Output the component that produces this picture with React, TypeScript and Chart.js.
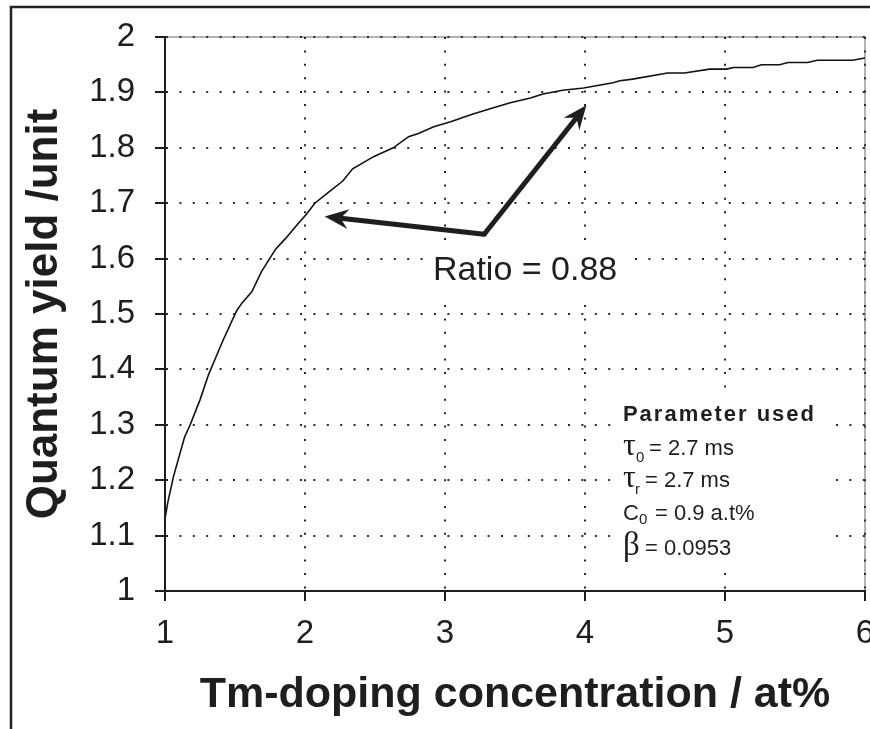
import React, { useEffect, useRef } from "react";
import { Chart, registerables } from "chart.js";

Chart.register(...registerables);

// ---- data ----
const concentration = [
  1.0, 1.02, 1.06, 1.14, 1.18, 1.25, 1.31, 1.41, 1.51, 1.55, 1.62, 1.69, 1.79, 1.86, 1.95, 2.01, 2.07,
  2.16, 2.27, 2.34, 2.49, 2.63, 2.74, 2.81, 2.92, 3.04, 3.2, 3.34, 3.46, 3.61, 3.7, 3.84, 3.99, 4.1,
  4.2, 4.25, 4.34, 4.59, 4.71, 4.89, 5.01, 5.06, 5.2, 5.26, 5.39, 5.45, 5.59, 5.66, 5.91, 6.0,
];
const quantumYield = [
  1.13, 1.16, 1.206, 1.278, 1.3, 1.345, 1.39, 1.45, 1.505, 1.52, 1.54, 1.577, 1.617, 1.636, 1.663, 1.68,
  1.7, 1.718, 1.74, 1.762, 1.784, 1.8, 1.82, 1.826, 1.838, 1.847, 1.861, 1.872, 1.881, 1.89, 1.897, 1.904,
  1.908, 1.913, 1.9175, 1.921, 1.924, 1.935, 1.935, 1.942, 1.942, 1.945, 1.945, 1.95, 1.95, 1.954, 1.954,
  1.958, 1.958, 1.962,
];
const xTickLabels = ["1", "2", "3", "4", "5", "6"];
const yTickLabels = ["1", "1.1", "1.2", "1.3", "1.4", "1.5", "1.6", "1.7", "1.8", "1.9", "2"];
const xTitle = "Tm-doping concentration / at%";
const yTitle = "Quantum yield /unit";

// annotation anchors in data units
const arrowVertex = [3.28, 1.644];
const arrowTipsX = [2.14, 4.01];
const arrowTipsY = [1.676, 1.877];
const ratioText = "Ratio = 0.88";
const ratioPos = [2.914, 1.562];
const paramTitle = "Parameter used";
const paramX = 4.271;
const paramBaselines = [1.307, 1.245, 1.188, 1.128, 1.065];
const paramSymbols = ["τ", "τ", "C", "β"];
const paramSubs = ["0", "r", "0", ""];
const paramValues = ["= 2.7 ms", "= 2.7 ms", "= 0.9 a.t%", "= 0.0953"];

const SANS = "'Liberation Sans', Arial, Helvetica, sans-serif";
const SERIF = "'Liberation Serif', 'Times New Roman', serif";
const INK = "#1e1e1e";

function drawArrow(ctx: CanvasRenderingContext2D, fx: number, fy: number, tx: number, ty: number) {
  const ang = Math.atan2(ty - fy, tx - fx);
  const c = Math.cos(ang);
  const s = Math.sin(ang);
  const headLen = 24;
  const half = 10;
  const notch = 16;
  ctx.save();
  ctx.strokeStyle = INK;
  ctx.fillStyle = INK;
  ctx.lineWidth = 5;
  ctx.lineCap = "butt";
  ctx.beginPath();
  ctx.moveTo(fx, fy);
  ctx.lineTo(tx - c * notch, ty - s * notch);
  ctx.stroke();
  const bx = tx - c * headLen;
  const by = ty - s * headLen;
  ctx.beginPath();
  ctx.moveTo(tx, ty);
  ctx.lineTo(bx - s * half, by + c * half);
  ctx.lineTo(tx - c * notch, ty - s * notch);
  ctx.lineTo(bx + s * half, by - c * half);
  ctx.closePath();
  ctx.fill();
  ctx.restore();
}

const framePlugin = {
  id: "frameAndNotes",
  beforeDraw(chart: any) {
    const { ctx, chartArea } = chart;
    ctx.save();
    ctx.fillStyle = "#ffffff";
    ctx.fillRect(0, 0, chart.width, chart.height);
    // outer figure frame (top and left)
    ctx.strokeStyle = "#222";
    ctx.lineWidth = 2.5;
    ctx.beginPath();
    ctx.moveTo(11, chart.height);
    ctx.lineTo(11, 7);
    ctx.lineTo(chart.width, 7);
    ctx.stroke();
    // light plot-area border (top, right)
    ctx.strokeStyle = "#9a9a9a";
    ctx.lineWidth = 1.5;
    ctx.beginPath();
    ctx.moveTo(chartArea.left, chartArea.top);
    ctx.lineTo(chartArea.right, chartArea.top);
    ctx.lineTo(chartArea.right, chartArea.bottom);
    ctx.stroke();
    ctx.restore();
  },
  beforeDatasetsDraw(chart: any) {
    // white text boxes hiding the grid behind the notes
    const { ctx } = chart;
    const xs = chart.scales.x;
    const ys = chart.scales.y;
    ctx.save();
    ctx.fillStyle = "#ffffff";
    ctx.font = `34px ${SANS}`;
    const rx = xs.getPixelForValue(ratioPos[0]);
    const ry = ys.getPixelForValue(ratioPos[1]);
    const rw = ctx.measureText(ratioText).width;
    ctx.fillRect(rx - 8, ry - 38, rw + 18, 54);
    const px = xs.getPixelForValue(paramX);
    const top = ys.getPixelForValue(paramBaselines[0]) - 26;
    const bottom = ys.getPixelForValue(paramBaselines[paramBaselines.length - 1]) + 12;
    ctx.fillRect(px - 8, top, 212, bottom - top);
    ctx.restore();
  },
  afterDatasetsDraw(chart: any) {
    const { ctx } = chart;
    const xs = chart.scales.x;
    const ys = chart.scales.y;
    const vx = xs.getPixelForValue(arrowVertex[0]);
    const vy = ys.getPixelForValue(arrowVertex[1]);
    for (let i = 0; i < arrowTipsX.length; i++) {
      drawArrow(ctx, vx, vy, xs.getPixelForValue(arrowTipsX[i]), ys.getPixelForValue(arrowTipsY[i]));
    }
    ctx.save();
    ctx.fillStyle = INK;
    ctx.beginPath();
    ctx.arc(vx, vy, 2.5, 0, Math.PI * 2);
    ctx.fill();
    ctx.restore();

    ctx.save();
    ctx.fillStyle = INK;
    ctx.textBaseline = "alphabetic";
    ctx.textAlign = "left";
    ctx.font = `34px ${SANS}`;
    ctx.fillText(ratioText, xs.getPixelForValue(ratioPos[0]), ys.getPixelForValue(ratioPos[1]));

    const px = xs.getPixelForValue(paramX);
    ctx.font = `bold 22px ${SANS}`;
    (ctx as any).letterSpacing = "2px";
    ctx.fillText(paramTitle, px, ys.getPixelForValue(paramBaselines[0]));
    (ctx as any).letterSpacing = "0px";

    const symFonts = [`32px ${SERIF}`, `32px ${SERIF}`, `22px ${SANS}`, `33px ${SERIF}`];
    const subDx = [13, 12, 16, 0];
    const subDy = [7, 7, 4, 0];
    const valDx = [26, 22, 32, 22];
    for (let i = 0; i < paramSymbols.length; i++) {
      const by = ys.getPixelForValue(paramBaselines[i + 1]);
      ctx.font = symFonts[i];
      ctx.fillText(paramSymbols[i], px, by);
      if (paramSubs[i]) {
        ctx.font = `15px ${SANS}`;
        ctx.fillText(paramSubs[i], px + subDx[i], by + subDy[i]);
      }
      ctx.font = `22px ${SANS}`;
      ctx.fillText(paramValues[i], px + valDx[i], by);
    }
    ctx.restore();
  },
};

export default function App() {
  const canvasRef = useRef<HTMLCanvasElement | null>(null);

  useEffect(() => {
    const canvas = canvasRef.current;
    if (!canvas) return;
    const points = concentration.map((x, i) => ({ x, y: quantumYield[i] }));
    const chart = new Chart(canvas, {
      type: "line",
      data: {
        datasets: [
          {
            label: "Quantum yield",
            data: points,
            borderColor: "#111",
            borderWidth: 1.6,
            pointRadius: 0,
            tension: 0,
            fill: false,
          },
        ],
      },
      options: {
        animation: false,
        responsive: false,
        devicePixelRatio: 1,
        layout: { padding: { top: 37, right: 15, bottom: 0, left: 0 } },
        plugins: {
          legend: { display: false },
          tooltip: { enabled: false },
          title: { display: false },
        },
        scales: {
          x: {
            type: "linear",
            min: 1,
            max: 6,
            afterFit(scale: any) {
              scale.height = 138;
              scale.paddingLeft = 0;
              scale.paddingRight = 0;
            },
            ticks: {
              stepSize: 1,
              autoSkip: false,
              maxRotation: 0,
              padding: 13,
              color: INK,
              font: { family: SANS, size: 33 },
              callback: (v: any) => xTickLabels[Math.round(Number(v) - 1)] ?? "",
            },
            grid: {
              color: "#2a2a2a",
              lineWidth: 2,
              drawTicks: true,
              tickLength: 10,
              tickColor: INK,
              tickWidth: 2,
            },
            border: { display: true, color: INK, width: 2, dash: [2, 11.4] },
            title: {
              display: true,
              text: xTitle,
              color: INK,
              font: { family: SANS, size: 43, weight: "bold" },
              padding: { top: 0, bottom: 8 },
            },
          },
          y: {
            type: "linear",
            min: 1,
            max: 2,
            afterFit(scale: any) {
              scale.width = 165;
              scale.paddingTop = 0;
              scale.paddingBottom = 0;
            },
            ticks: {
              stepSize: 0.1,
              autoSkip: false,
              padding: 20,
              color: INK,
              font: { family: SANS, size: 33 },
              callback: (v: any) => yTickLabels[Math.round((Number(v) - 1) * 10)] ?? "",
            },
            grid: {
              color: "#2a2a2a",
              lineWidth: 2,
              drawTicks: true,
              tickLength: 10,
              tickColor: INK,
              tickWidth: 2,
            },
            border: { display: true, color: INK, width: 2, dash: [2, 11.4] },
            title: {
              display: true,
              text: yTitle,
              color: INK,
              font: { family: SANS, size: 44, weight: "bold" },
              padding: { top: 18, bottom: 0 },
            },
          },
        },
      },
      plugins: [framePlugin],
    });
    return () => chart.destroy();
  }, []);

  return (
    <div
      style={{
        position: "fixed",
        left: 0,
        top: 0,
        width: 870,
        height: 729,
        overflow: "hidden",
        background: "#fff",
      }}
    >
      <canvas ref={canvasRef} width={880} height={729} style={{ display: "block" }} />
    </div>
  );
}
